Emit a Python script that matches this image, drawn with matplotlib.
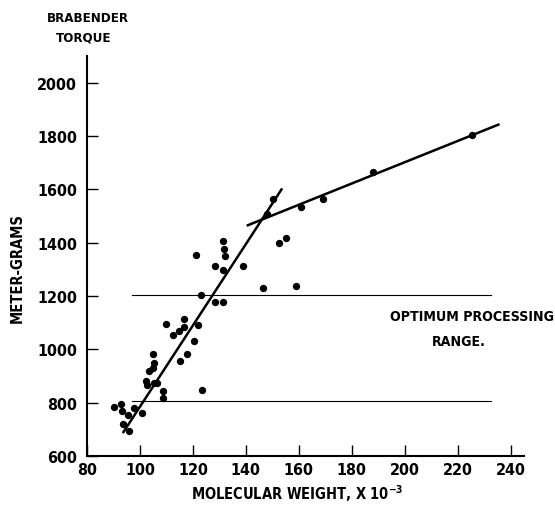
import matplotlib
matplotlib.use("Agg")
import matplotlib.pyplot as plt
import numpy as np

# Data
mol_weight = [90.3, 92.7, 93.1, 95.6, 97.7, 93.7, 96.0, 100.6, 102.3, 102.8,
              103.5, 104.8, 105.3, 104.8, 105.3, 106.3, 108.8, 108.8, 109.8, 112.6,
              114.6, 116.5, 116.5, 115.1, 117.7, 120.5, 121.8, 123.0, 128.2, 123.3,
              121.0, 131.3, 131.7, 132.2, 128.3, 131.4, 138.8, 146.5, 131.4, 150.3,
              152.4, 147.8, 160.8, 169.2, 188.0, 225.5, 155.1, 159.1]
torque = [785, 795, 770, 754, 781, 720, 695, 761, 882, 866,
          920, 929, 949, 982, 873, 873, 845, 817, 1095, 1054,
          1069, 1113, 1083, 955, 981, 1030, 1091, 1204, 1176, 847,
          1355, 1405, 1378, 1349, 1314, 1297, 1314, 1232, 1176, 1564,
          1401, 1507, 1535, 1564, 1667, 1805, 1419, 1239]

steep_x = [93.5, 153.7]
steep_y = [686, 1604]
shallow_x = [140.3, 235.8]
shallow_y = [1464, 1845]

range_x = [96.8, 232.5]
range_low = 805
range_high = 1205

x_ticks = [80, 100, 120, 140, 160, 180, 200, 220, 240]
y_ticks = [600, 800, 1000, 1200, 1400, 1600, 1800, 2000]

plt.rcParams['font.family'] = ['DejaVu Sans']
plt.rcParams['font.stretch'] = 'condensed'
plt.rcParams['font.weight'] = 'bold'

fig = plt.figure(figsize=(5.55, 5.06), dpi=100)
ax = fig.add_axes([0.1568, 0.0968, 0.944 - 0.1568, 0.887 - 0.0968])

ax.set_xlim(80, 245)
ax.set_ylim(600, 2100)

ax.scatter(mol_weight, torque, s=28, color='black', zorder=3, linewidths=0)
ax.plot(steep_x, steep_y, color='black', lw=1.8, solid_capstyle='butt')
ax.plot(shallow_x, shallow_y, color='black', lw=1.8, solid_capstyle='butt')
ax.plot(range_x, [range_high, range_high], color='black', lw=0.8)
ax.plot(range_x, [range_low, range_low], color='black', lw=0.8)

for s in ['top', 'right']:
    ax.spines[s].set_visible(False)
for s in ['left', 'bottom']:
    ax.spines[s].set_linewidth(1.5)

ax.set_xticks(x_ticks)
ax.set_yticks(y_ticks)
ax.set_xticklabels([str(v) for v in x_ticks])
ax.set_yticklabels([str(v) for v in y_ticks])
ax.tick_params(direction='in', length=8, width=1.0, labelsize=11.5)
ax.tick_params(axis='y', pad=7)
ax.tick_params(axis='x', pad=4)

fs = 9.5
fig.text(88 / 555, 1 - 18 / 506, 'BRABENDER', ha='center', va='center', fontsize=fs)
fig.text(84 / 555, 1 - 38 / 506, 'TORQUE', ha='center', va='center', fontsize=fs)
fig.text(17 / 555, 1 - 268 / 506, 'METER-GRAMS', ha='center', va='center',
         rotation=90, fontsize=10.5)
fig.text(297 / 555, 1 - 494 / 506, r'MOLECULAR WEIGHT, X 10$^{\mathbf{-3}}$',
         ha='center', va='center', fontsize=10.5)
fig.text(472 / 555, 1 - 317 / 506, 'OPTIMUM PROCESSING', ha='center', va='center',
         fontsize=10.2)
fig.text(459 / 555, 1 - 342 / 506, 'RANGE.', ha='center', va='center', fontsize=10.2)

fig.savefig('out.png', dpi=100)
